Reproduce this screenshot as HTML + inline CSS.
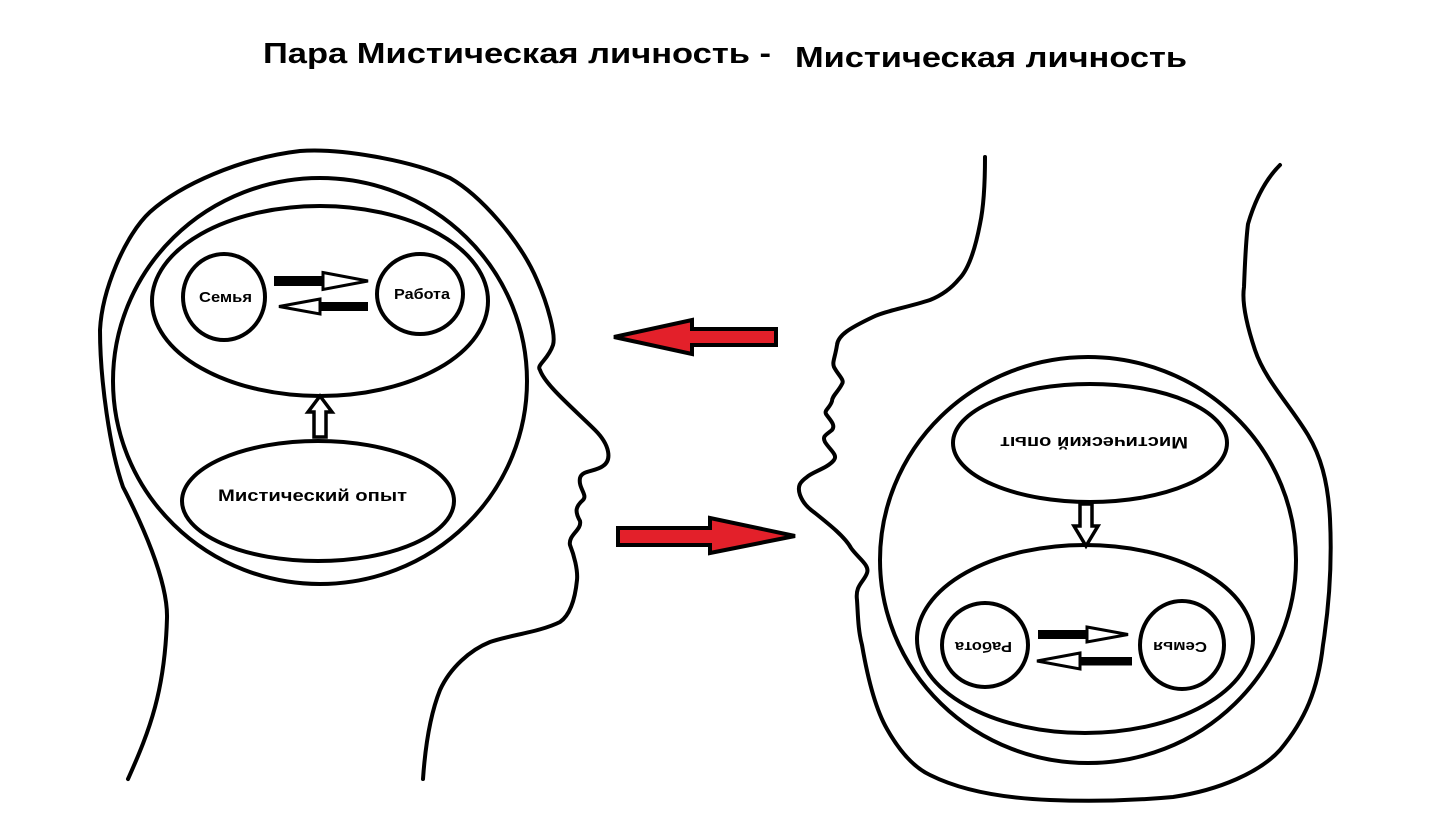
<!DOCTYPE html>
<html><head><meta charset="utf-8"><style>
html,body{margin:0;padding:0;background:#fff;}
svg{display:block;}
text{font-family:"Liberation Sans","DejaVu Sans",sans-serif;font-weight:bold;fill:#000;}
</style></head><body>
<svg width="1429" height="840" viewBox="0 0 1429 840" xmlns="http://www.w3.org/2000/svg">
<rect width="1429" height="840" fill="#fff"/>
<text x="263" y="63" font-size="29" textLength="508" lengthAdjust="spacingAndGlyphs">Пара Мистическая личность -</text>
<text x="795" y="67" font-size="29" textLength="392" lengthAdjust="spacingAndGlyphs">Мистическая личность</text>

<g fill="none" stroke="#000" stroke-width="4" stroke-linecap="round" stroke-linejoin="round">
<!-- left head outline -->
<path d="M128,779 C150,730 165,690 167,618 C168,580 140,520 123,487 C110,450 100,380 100,330 C102,290 125,235 150,212 C180,185 240,158 300,151 C340,148 410,160 450,178 C480,195 520,240 537,280 C548,305 556,335 553,345 C548,360 536,365 540,370 C545,385 575,410 595,430 C610,445 612,460 603,466 C595,472 582,470 580,478 C578,488 588,495 583,500 C575,507 575,512 580,521 C582,530 568,535 570,545 C574,555 578,570 577,580 C575,600 570,615 560,622 C540,632 510,635 490,642 C470,650 450,668 440,690 C430,715 425,750 423,779"/>
<ellipse cx="320" cy="381" rx="207" ry="203"/>
<ellipse cx="320" cy="301" rx="168" ry="95"/>
<ellipse cx="224" cy="297" rx="41" ry="43"/>
<ellipse cx="420" cy="294" rx="43" ry="40"/>
<ellipse cx="318" cy="501" rx="136" ry="60"/>

<!-- right head outline -->
<path d="M985,157 C985,190 983,210 980,224 C975,250 968,270 959,279 C950,290 940,296 930,300 C905,308 885,311 873,317 C850,328 838,335 837,345 C835,358 832,362 834,367 C838,375 845,380 842,384 C838,392 832,396 832,401 C830,408 824,410 826,414 C830,420 836,425 832,430 C826,435 822,436 825,442 C830,450 838,455 834,460 C828,468 812,472 807,477 C800,482 797,486 800,495 C803,503 808,508 815,513 C830,525 845,537 851,548 C858,558 870,565 867,573 C864,582 855,585 857,600 C858,615 858,630 862,645 C868,680 876,710 887,729 C900,752 915,768 930,775 C960,790 1000,798 1050,800 C1100,802 1140,800 1173,797 C1220,790 1260,772 1280,750 C1305,720 1318,690 1323,645 C1330,600 1332,560 1330,519 C1328,480 1320,455 1308,435 C1290,405 1265,380 1255,350 C1245,320 1242,300 1244,287 C1245,260 1246,240 1248,224 C1255,200 1265,180 1280,165"/>
<ellipse cx="1088" cy="560" rx="208" ry="203"/>
<ellipse cx="1090" cy="443" rx="137" ry="59"/>
<ellipse cx="1085" cy="639" rx="168" ry="94"/>
<ellipse cx="985" cy="645" rx="43" ry="42"/>
<ellipse cx="1182" cy="645" rx="42" ry="44"/>
</g>

<!-- left small arrows -->
<rect x="274" y="276" width="51" height="10" fill="#000"/>
<path d="M323,272.5 L368,281 L323,289.5 Z" fill="#fff" stroke="#000" stroke-width="3"/>
<rect x="318" y="302" width="50" height="9" fill="#000"/>
<path d="M320,299 L279,306.5 L320,314 Z" fill="#fff" stroke="#000" stroke-width="3"/>
<path d="M314,437 L314,412 L308,412 L320,396 L332,412 L326,412 L326,437 Z" fill="#fff" stroke="#000" stroke-width="3.5"/>

<!-- right small arrows -->
<rect x="1038" y="630" width="50" height="9" fill="#000"/>
<path d="M1087,627 L1128,634.5 L1087,642 Z" fill="#fff" stroke="#000" stroke-width="3"/>
<rect x="1080" y="657" width="52" height="8.5" fill="#000"/>
<path d="M1080,653 L1037,661 L1080,669 Z" fill="#fff" stroke="#000" stroke-width="3"/>
<path d="M1080,504 L1080,526 L1074,526 L1086,546 L1098,526 L1092,526 L1092,504 Z" fill="#fff" stroke="#000" stroke-width="3.5"/>

<!-- red arrows -->
<path d="M776,329 L692,329 L692,320 L614,337 L692,354 L692,345 L776,345 Z" fill="#e3202a" stroke="#000" stroke-width="4" stroke-linejoin="miter"/>
<path d="M618,528 L710,528 L710,518 L795,536 L710,553 L710,545 L618,545 Z" fill="#e3202a" stroke="#000" stroke-width="4" stroke-linejoin="miter"/>

<!-- labels left -->
<text x="199" y="302" font-size="15" textLength="53" lengthAdjust="spacingAndGlyphs">Семья</text>
<text x="394" y="299" font-size="15" textLength="56" lengthAdjust="spacingAndGlyphs">Работа</text>
<text x="218" y="501" font-size="17" textLength="189" lengthAdjust="spacingAndGlyphs">Мистический опыт</text>

<!-- labels right (upside down) -->
<text transform="translate(1188,437) rotate(180)" font-size="17" textLength="188" lengthAdjust="spacingAndGlyphs">Мистический опыт</text>
<text transform="translate(1012,642) rotate(180)" font-size="15" textLength="57" lengthAdjust="spacingAndGlyphs">Работа</text>
<text transform="translate(1207,642) rotate(180)" font-size="15" textLength="54" lengthAdjust="spacingAndGlyphs">Семья</text>
</svg>
</body></html>
